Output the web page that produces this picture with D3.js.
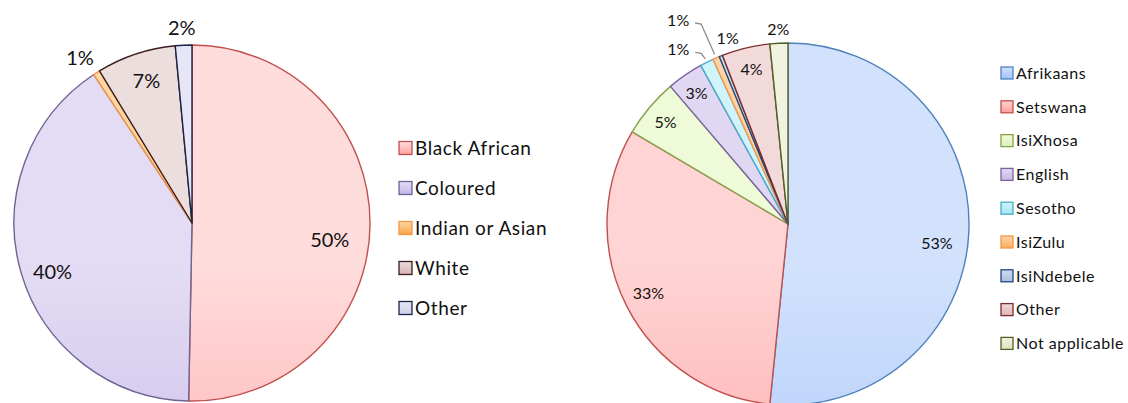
<!DOCTYPE html>
<html><head><meta charset="utf-8">
<script src="https://cdn.jsdelivr.net/npm/d3@7"></script>
<style>body{margin:0;background:#fff}svg{display:block}text{font-family:Lato,"Open Sans",sans-serif;fill:#111}</style>
</head><body>
<svg id="c" width="1128" height="403"></svg>
<script>
// ---- data ----
const raceCategories = ["Black African","Coloured","Indian or Asian","White","Other"];
const raceValues = [50.3, 40.4, 0.6, 7.2, 1.5];
const raceLabels = ["50%","40%","1%","7%","2%"];

const langCategories = ["Afrikaans","Setswana","IsiXhosa","English","Sesotho","IsiZulu","IsiNdebele","Other","Not applicable"];
const langValues = [51.6, 31.9, 5.25, 3.25, 1.2, 0.6, 0.3, 4.3, 1.6];
const langLabels = ["53%","33%","5%","3%","1%","1%","1%","4%","2%"];

// ---- styles / layout ----
const raceStyles = [
  {top:"#ffdcdc", bottom:"#ffa2a2", stroke:"#c0504d"},
  {top:"#e4dcf4", bottom:"#c4b4e8", stroke:"#6e6494"},
  {top:"#fdd7a4", bottom:"#f8a646", stroke:"#f79646"},
  {top:"#eddede", bottom:"#d4b2b2", stroke:"#3c1c1c"},
  {top:"#e6e6f6", bottom:"#cdcdea", stroke:"#1c2444"}
];
const langStyles = [
  {top:"#d2e2fc", bottom:"#a2c2f8", stroke:"#4f81bd"},
  {top:"#ffd4d4", bottom:"#ff9c9c", stroke:"#c0504d"},
  {top:"#eefad8", bottom:"#ddf2bc", stroke:"#86a24c"},
  {top:"#e0d8f2", bottom:"#c8bae6", stroke:"#7a63a0"},
  {top:"#d0f4fc", bottom:"#a4e4f6", stroke:"#4bacc6"},
  {top:"#fdd4a8", bottom:"#f9b060", stroke:"#f79646"},
  {top:"#cfdcef", bottom:"#a9bfe0", stroke:"#1f497d"},
  {top:"#f3dada", bottom:"#e0b4b4", stroke:"#7a2e2c"},
  {top:"#f1f3e0", bottom:"#dfe4bc", stroke:"#4f6228"}
];
// [angle offset from slice middle (deg), radius fraction, leader]
const raceLabelLayout = [[6.5,0.78,0],[-3,0.83,0],[-1.8,1.12,0],[0.6,0.84,0],[-0.3,1.10,0]];
const langLabelLayout = [[4.4,0.83,0],[0.6,0.86,0],[-0.3,0.88,0],[-0.4,0.88,0],[-5.5,1.14,1],[-4.9,1.28,1],[3.8,1.08,0],[0.3,0.88,0],[0,1.08,0]];

const svg = d3.select("#c");
const defs = svg.append("defs");

function drawPie(opts) {
  const {id, cats, vals, labels, styles, layout, cx, cy, r, fontSize,
         legX, legY0, legStep, legSize, legFont, legSpacing} = opts;
  const pie = d3.pie().sort(null).value(d => d)(vals);
  const arc = d3.arc().innerRadius(0).outerRadius(r);

  styles.forEach((s, i) => {
    const g = defs.append("linearGradient").attr("id", id + i)
      .attr("gradientUnits", "userSpaceOnUse")
      .attr("x1", 0).attr("x2", 0).attr("y1", cy - r).attr("y2", cy + r);
    g.append("stop").attr("offset", "0%").attr("stop-color", s.top);
    g.append("stop").attr("offset", "100%").attr("stop-color", s.bottom);
    const lg = defs.append("linearGradient").attr("id", id + "L" + i)
      .attr("x1", 0).attr("x2", 0).attr("y1", 0).attr("y2", 1);
    lg.append("stop").attr("offset", "0%").attr("stop-color", s.top);
    lg.append("stop").attr("offset", "100%").attr("stop-color", s.bottom);
  });

  const g = svg.append("g").attr("transform", `translate(${cx},${cy})`);
  g.selectAll("path").data(pie).join("path")
    .attr("d", arc)
    .attr("fill", (d, i) => `url(#${id}${i})`)
    .attr("stroke", (d, i) => styles[i].stroke)
    .attr("stroke-width", 1.4)
    .attr("stroke-linejoin", "round");

  const pt = (ang, rad) => [Math.sin(ang) * rad, -Math.cos(ang) * rad];

  pie.forEach((d, i) => {
    const [off, rf, leader] = layout[i];
    const mid = (d.startAngle + d.endAngle) / 2;
    const a = mid + off * Math.PI / 180;
    const [x, y] = pt(a, r * rf);
    g.append("text").attr("x", x).attr("y", y).attr("dy", "0.36em")
      .attr("text-anchor", "middle").attr("font-size", fontSize)
      .text(labels[i]);
    if (leader) {
      const [ex, ey] = pt(mid, r * 1.02);
      g.append("polyline")
        .attr("points", `${x + 17},${y + 3} ${x + 23},${y + 4} ${ex},${ey}`)
        .attr("fill", "none").attr("stroke", "#8c8c8c").attr("stroke-width", 1.3);
    }
  });

  const leg = svg.append("g");
  cats.forEach((c, i) => {
    const yc = legY0 + i * legStep;
    leg.append("rect").attr("x", legX).attr("y", yc - legSize / 2)
      .attr("width", legSize).attr("height", legSize)
      .attr("fill", `url(#${id}L${i})`).attr("stroke", styles[i].stroke).attr("stroke-width", 1.3);
    leg.append("text").attr("x", legX + legSize + 3).attr("y", yc).attr("dy", "0.36em")
      .attr("font-size", legFont).attr("letter-spacing", legSpacing).text(c);
  });
}

drawPie({id: "race", cats: raceCategories, vals: raceValues, labels: raceLabels,
  styles: raceStyles, layout: raceLabelLayout, cx: 192, cy: 223, r: 178, fontSize: 20,
  legX: 399, legY0: 148, legStep: 40, legSize: 13, legFont: 19, legSpacing: 0.6});

drawPie({id: "lang", cats: langCategories, vals: langValues, labels: langLabels,
  styles: langStyles, layout: langLabelLayout, cx: 788, cy: 224, r: 181, fontSize: 16,
  legX: 1001, legY0: 73, legStep: 33.8, legSize: 12, legFont: 16, legSpacing: 0.5});
</script>
</body></html>
